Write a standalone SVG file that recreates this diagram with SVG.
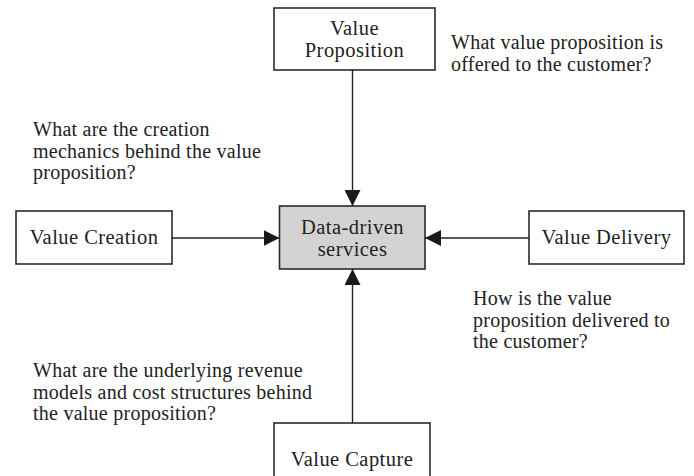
<svg xmlns="http://www.w3.org/2000/svg" width="694" height="476" viewBox="0 0 694 476">
  <style>
    .box { fill: #ffffff; stroke: #2a2a2a; stroke-width: 1.6; }
    .core { fill: #d3d3d3; stroke: #2a2a2a; stroke-width: 1.6; }
    .lbl { font-family: "Liberation Serif", "Times New Roman", serif; font-size: 20.5px; letter-spacing: 0.45px; fill: #222222; text-anchor: middle; }
    .q { font-family: "Liberation Serif", "Times New Roman", serif; font-size: 20px; letter-spacing: 0.25px; fill: #222222; }
    .edge { stroke: #222222; stroke-width: 1.4; fill: none; marker-end: url(#head); }
  </style>
  <defs>
    <marker id="head" viewBox="0 0 16 16" refX="16" refY="8" markerWidth="16" markerHeight="16" markerUnits="userSpaceOnUse" orient="auto">
      <path d="M0,0 L16,8 L0,16 Z" fill="#1a1a1a"/>
    </marker>
  </defs>

  <rect width="694" height="476" fill="#ffffff"/>

  <!-- connectors -->
  <g id="connectors">
    <line class="edge" x1="352.5" y1="70" x2="352.5" y2="206"/>
    <line class="edge" x1="172" y1="238" x2="279.5" y2="238"/>
    <line class="edge" x1="529" y1="238" x2="425" y2="238"/>
    <line class="edge" x1="352.5" y1="423" x2="352.5" y2="269"/>
  </g>

  <g id="data-driven-services">
    <rect class="core" x="279.5" y="206" width="145.5" height="63"/>
    <text class="lbl" x="352.5" y="234">Data-driven</text>
    <text class="lbl" x="352.5" y="256">services</text>
  </g>

  <g id="value-proposition">
    <rect class="box" x="274" y="8" width="161" height="62"/>
    <text class="lbl" x="354.5" y="35">Value</text>
    <text class="lbl" x="354.5" y="57">Proposition</text>
  </g>

  <g id="value-creation">
    <rect class="box" x="16" y="211" width="156" height="53"/>
    <text class="lbl" x="94" y="244">Value Creation</text>
  </g>

  <g id="value-delivery">
    <rect class="box" x="529" y="211" width="155" height="53"/>
    <text class="lbl" x="606.5" y="244">Value Delivery</text>
  </g>

  <g id="value-capture">
    <rect class="box" x="274" y="423" width="156" height="62"/>
    <text class="lbl" x="352" y="466">Value Capture</text>
  </g>

  <!-- guiding questions -->
  <g id="questions">
    <text class="q" x="451" y="49">What value proposition is</text>
    <text class="q" x="451" y="71">offered to the customer?</text>

    <text class="q" x="33" y="136">What are the creation</text>
    <text class="q" x="33" y="158">mechanics behind the value</text>
    <text class="q" x="33" y="179">proposition?</text>

    <text class="q" x="473" y="305">How is the value</text>
    <text class="q" x="473" y="327">proposition delivered to</text>
    <text class="q" x="473" y="348">the customer?</text>

    <text class="q" x="33" y="377">What are the underlying revenue</text>
    <text class="q" x="33" y="399">models and cost structures behind</text>
    <text class="q" x="33" y="420">the value proposition?</text>
  </g>
</svg>
